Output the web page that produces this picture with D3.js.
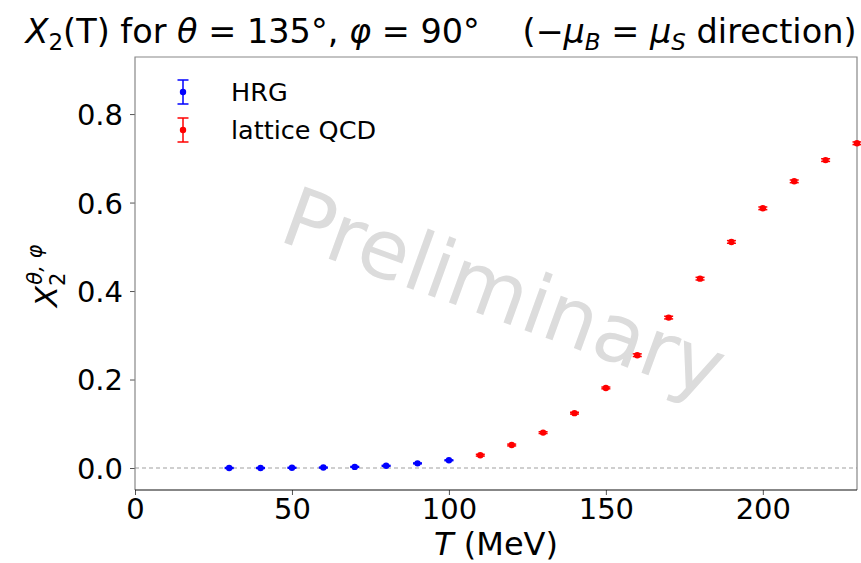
<!DOCTYPE html>
<html>
<head>
<meta charset="utf-8">
<script src="https://cdn.jsdelivr.net/npm/d3@7"></script>
<style>
  body { margin: 0; background: #fff; }
  svg { font-family: 'DejaVu Sans', sans-serif; }
</style>
</head>
<body>
<div id="chart"></div>
<script>
// HRG points
const hrgT = [30, 40, 50, 60, 70, 80, 90, 100];
const hrgX2 = [0.0, 0.0, 0.0005, 0.001, 0.0025, 0.005, 0.0105, 0.0175];
const hrgErr = [0.001, 0.001, 0.001, 0.001, 0.001, 0.001, 0.001, 0.001];

// lattice QCD points
const latT = [110, 120, 130, 140, 150, 160, 170, 180, 190, 200, 210, 220, 230];
const latX2 = [0.029, 0.052, 0.080, 0.124, 0.181, 0.255, 0.340, 0.428, 0.511, 0.587, 0.648, 0.696, 0.734];
const latErr = [0.002, 0.002, 0.002, 0.002, 0.002, 0.003, 0.003, 0.003, 0.003, 0.003, 0.003, 0.003, 0.003];

const xTicks = [0, 50, 100, 150, 200];
const yTicks = [0.0, 0.2, 0.4, 0.6, 0.8];

const width = 861;
const height = 563;
const margin = { top: 57, right: 4, bottom: 73, left: 135 };

const svg = d3.select('#chart').append('svg')
  .attr('width', width)
  .attr('height', height);

const x = d3.scaleLinear().domain([0, 230]).range([margin.left, width - margin.right]);
const y = d3.scaleLinear().domain([-0.0497, 0.929]).range([height - margin.bottom, margin.top]);

// watermark
svg.append('text')
  .attr('transform', 'translate(502,298) rotate(20)')
  .attr('text-anchor', 'middle')
  .attr('dominant-baseline', 'middle')
  .style('font-size', '82px')
  .style('fill', '#dcdcdc')
  .text('Preliminary');

// zero line
svg.append('line')
  .attr('x1', x(0)).attr('x2', x(230))
  .attr('y1', y(0)).attr('y2', y(0))
  .attr('stroke', '#a0a0a0')
  .attr('stroke-width', 1.2)
  .attr('stroke-dasharray', '4,3');

// axes
const xAxis = svg.append('g')
  .attr('transform', `translate(0,${height - margin.bottom})`)
  .call(d3.axisBottom(x).tickValues(xTicks).tickFormat(d3.format('d')).tickSize(5).tickPadding(3));
const yAxis = svg.append('g')
  .attr('transform', `translate(${margin.left},0)`)
  .call(d3.axisLeft(y).tickValues(yTicks).tickFormat(d3.format('.1f')).tickSize(5).tickPadding(7));

[xAxis, yAxis].forEach((a) => {
  a.select('.domain').remove();
  a.selectAll('text').style('font-size', '29px').style('font-family', 'DejaVu Sans').attr('fill', '#000');
  a.selectAll('line').attr('stroke', '#555');
});
yAxis.selectAll('text').attr('dy', '0.36em');

// frame
const x0 = margin.left;
const x1 = width - margin.right;
const y0 = margin.top;
const y1 = height - margin.bottom;
svg.append('path')
  .attr('d', `M${x0},${y1}L${x0},${y0}L${x1},${y0}L${x1},${y1}`)
  .attr('fill', 'none')
  .attr('stroke', '#888')
  .attr('stroke-width', 1.2);
svg.append('line')
  .attr('x1', x0).attr('x2', x1).attr('y1', y1).attr('y2', y1)
  .attr('stroke', '#111').attr('stroke-width', 1.2);

// error bar points
const plotPoints = (ts, vals, errs, color) => {
  const g = svg.append('g');
  ts.forEach((t, i) => {
    const cx = x(t);
    const lo = y(vals[i] - errs[i]);
    const hi = y(vals[i] + errs[i]);
    g.append('line').attr('x1', cx).attr('x2', cx).attr('y1', lo).attr('y2', hi)
      .attr('stroke', color).attr('stroke-width', 1.5);
    [lo, hi].forEach((yy) => {
      g.append('line').attr('x1', cx - 4.5).attr('x2', cx + 4.5).attr('y1', yy).attr('y2', yy)
        .attr('stroke', color).attr('stroke-width', 1.5);
    });
    g.append('circle').attr('cx', cx).attr('cy', y(vals[i])).attr('r', 3.2).attr('fill', color);
  });
};
plotPoints(hrgT, hrgX2, hrgErr, '#0000ff');
plotPoints(latT, latX2, latErr, '#ff0000');

// legend
const legendItems = [
  { label: 'HRG', color: '#0000ff', cy: 92 },
  { label: 'lattice QCD', color: '#ff0000', cy: 130 },
];
legendItems.forEach((d) => {
  const lg = svg.append('g');
  lg.append('line').attr('x1', 183).attr('x2', 183).attr('y1', d.cy - 12).attr('y2', d.cy + 12)
    .attr('stroke', d.color).attr('stroke-width', 1.5);
  [d.cy - 12, d.cy + 12].forEach((yy) => {
    lg.append('line').attr('x1', 177.5).attr('x2', 188.5).attr('y1', yy).attr('y2', yy)
      .attr('stroke', d.color).attr('stroke-width', 1.5);
  });
  lg.append('circle').attr('cx', 183).attr('cy', d.cy).attr('r', 3.2).attr('fill', d.color);
  lg.append('text').attr('x', 231).attr('y', d.cy).attr('dy', '0.36em')
    .style('font-size', '25.5px').text(d.label);
});

// title
const title = svg.append('text')
  .attr('x', 441).attr('y', 43)
  .attr('text-anchor', 'middle')
  .attr('xml:space', 'preserve')
  .style('font-size', '33.5px');
title.append('tspan').style('font-style', 'italic').text('X');
title.append('tspan').attr('dy', 7).style('font-size', '23px').text('2');
title.append('tspan').attr('dy', -7).text('(T) for ');
title.append('tspan').style('font-style', 'italic').text('θ');
title.append('tspan').text(' = 135°, ');
title.append('tspan').style('font-style', 'italic').text('φ');
title.append('tspan').text(' = 90°    (−');
title.append('tspan').style('font-style', 'italic').text('μ');
title.append('tspan').attr('dy', 7).style('font-size', '23px').style('font-style', 'italic').text('B');
title.append('tspan').attr('dy', -7).text(' = ');
title.append('tspan').style('font-style', 'italic').text('μ');
title.append('tspan').attr('dy', 7).style('font-size', '23px').style('font-style', 'italic').text('S');
title.append('tspan').attr('dy', -7).text(' direction)');

// x label
const xl = svg.append('text')
  .attr('x', 496).attr('y', 555)
  .attr('text-anchor', 'middle')
  .attr('xml:space', 'preserve')
  .style('font-size', '32px');
xl.append('tspan').style('font-style', 'italic').text('T');
xl.append('tspan').text(' (MeV)');

// y label
const yl = svg.append('text')
  .attr('transform', 'translate(57,276) rotate(-90)')
  .attr('text-anchor', 'middle')
  .style('font-size', '31px');
yl.append('tspan').style('font-style', 'italic').text('X');
yl.append('tspan').attr('dy', 8).style('font-size', '21px').text('2');
yl.append('tspan').attr('dx', -12).attr('dy', -23).style('font-size', '21px').style('font-style', 'italic').text('θ, φ');
</script>
</body>
</html>
